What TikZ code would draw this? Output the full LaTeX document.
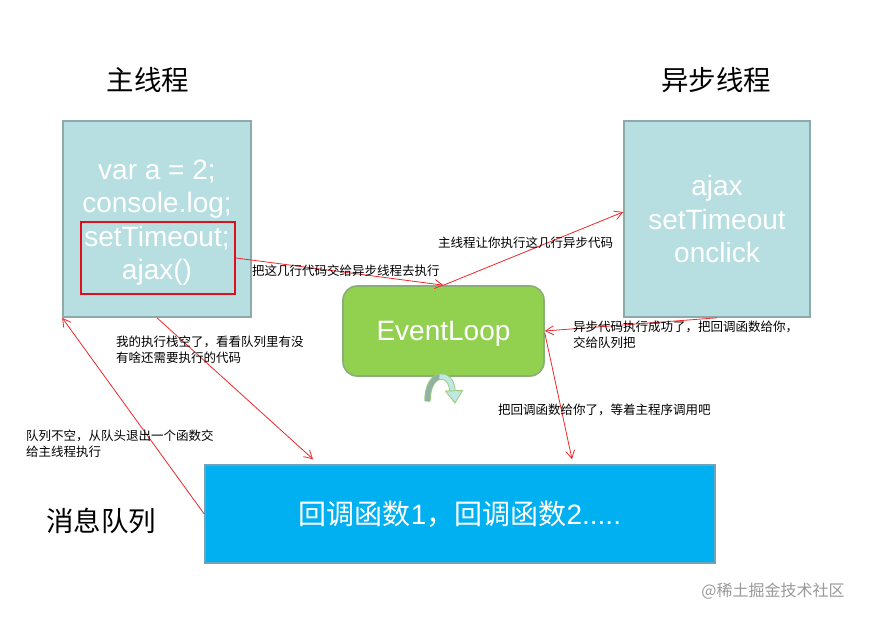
\documentclass[tikz,border=0pt]{standalone}
\usepackage{fontspec}
\setmainfont{Liberation Sans}
\newfontfamily\cjk{Noto Sans CJK SC}
\usetikzlibrary{arrows.meta}

\definecolor{boxfill}{HTML}{B7DEE1}
\definecolor{boxline}{HTML}{8EA9AA}
\definecolor{loopfill}{HTML}{92D050}
\definecolor{loopline}{HTML}{8AAE78}
\definecolor{queuefill}{HTML}{00B0F0}
\definecolor{queueline}{HTML}{6FA3BA}
\definecolor{flow}{HTML}{F0282C}
\definecolor{handoffred}{HTML}{E0101A}
\definecolor{turnleft}{HTML}{8FB2A4}
\definecolor{turnright}{HTML}{BFE8E4}
\definecolor{turnedge}{HTML}{9DCB78}

\tikzset{
  panel/.style={draw=boxline, line width=1.6pt, fill=boxfill, inner sep=0pt},
  code/.style={text=white, font=\fontsize{28}{33.5}\selectfont, align=center, inner sep=0pt},
  heading/.style={font=\cjk\fontsize{27.5}{30}\selectfont, inner sep=0pt},
  msg/.style={font=\cjk\fontsize{12.5}{16}\selectfont, inner sep=0pt, align=left},
  flowarrow/.style={draw=flow, line width=0.8pt, -{Straight Barb[length=8pt,width=9pt]}},
}

\begin{document}
\begin{tikzpicture}[x=1pt, y=-1pt]
  \useasboundingbox (0,0) rectangle (871,619);
  \fill[white] (0,0) rectangle (871,619);

  % headings
  \node[heading] (mainTitle)  at (148,80)  {主线程};
  \node[heading] (asyncTitle) at (716,80)  {异步线程};
  \node[heading] (queueTitle) at (101,521) {消息队列};

  % main thread code
  \node[panel, minimum width=188pt, minimum height=196pt] (main) at (157,219) {};
  \node[code] (mainCode) at (157,222.5)
    {var a = 2;\\console.log;\\setTimeout;\\ajax()};
  \node[draw=handoffred, line width=2pt, minimum width=154pt, minimum height=72pt,
        inner sep=0pt] (handoff) at (158,258) {};

  % async thread
  \node[panel, minimum width=186pt, minimum height=196pt] (async) at (717,219) {};
  \node[code] (asyncCode) at (717,219) {ajax\\setTimeout\\onclick};

  % event loop
  \node[draw=loopline, line width=1.6pt, fill=loopfill, rounded corners=14pt,
        minimum width=201pt, minimum height=90pt, text=white, text depth=0pt,
        font=\fontsize{28}{33}\selectfont, inner sep=0pt] (loop) at (443.5,331) {EventLoop};

  % looping arrow under the event loop
  \draw[turnedge, line width=6.4pt] (427.5,401) .. controls (427.5,370) and (452,370) .. (452.5,392);
  \draw[turnleft, line width=4.6pt] (427.5,401.5) .. controls (427.5,385.5) and (433.6,377.75) .. (439.8,376.6);
  \draw[turnright, line width=4.6pt] (439.5,376.6) .. controls (446,375.5) and (452.25,381) .. (452.5,392);
  \fill[turnright, draw=turnedge, line width=0.9pt, line join=round]
    (445.5,391) -- (462.5,390.5) -- (455,403) -- cycle;

  % message queue
  \node[draw=queueline, line width=1.6pt, fill=queuefill, minimum width=510pt,
        minimum height=98pt, text=white, font=\fontsize{28}{33}\selectfont,
        inner sep=0pt] (queue) at (460,514)
    {{\cjk 回调函数}1{\cjk ，回调函数}2.....};

  % connectors
  \draw[flowarrow] (handoff.east) -- (loop.north);
  \draw[flowarrow] (loop.north) -- ([yshift=7pt]async.west);
  \draw[flowarrow] (async.south) -- (loop.east);
  \draw[flowarrow] ([yshift=-2pt]loop.east) -- ([xshift=112pt,yshift=5pt]queue.north);
  \draw[flowarrow] (main.south) -- ([xshift=-147pt,yshift=5pt]queue.north);
  \draw[flowarrow] (queue.west) -- (main.south west);

  % connector labels
  \node[msg, anchor=west] (lblHandoff) at (252,271) {把这几行代码交给异步线程去执行};
  \node[msg, anchor=west] (lblRun) at (438,243) {主线程让你执行这几行异步代码};
  \node[msg, anchor=north west] (lblDone) at (573,321)
    {异步代码执行成功了，把回调函数给你，\\交给队列把};
  \node[msg, anchor=west] (lblEnqueue) at (498,410) {把回调函数给你了，等着主程序调用吧};
  \node[msg, anchor=north west] (lblEmpty) at (116,336)
    {我的执行栈空了，看看队列里有没\\有啥还需要执行的代码};
  \node[msg, anchor=north west] (lblDequeue) at (26,430)
    {队列不空，从队头退出一个函数交\\给主线程执行};

  % credit line
  \node[font=\cjk\fontsize{16}{18}\selectfont, text=black!40, inner sep=0pt]
    (credit) at (773,591) {@稀土掘金技术社区};
\end{tikzpicture}
\end{document}
